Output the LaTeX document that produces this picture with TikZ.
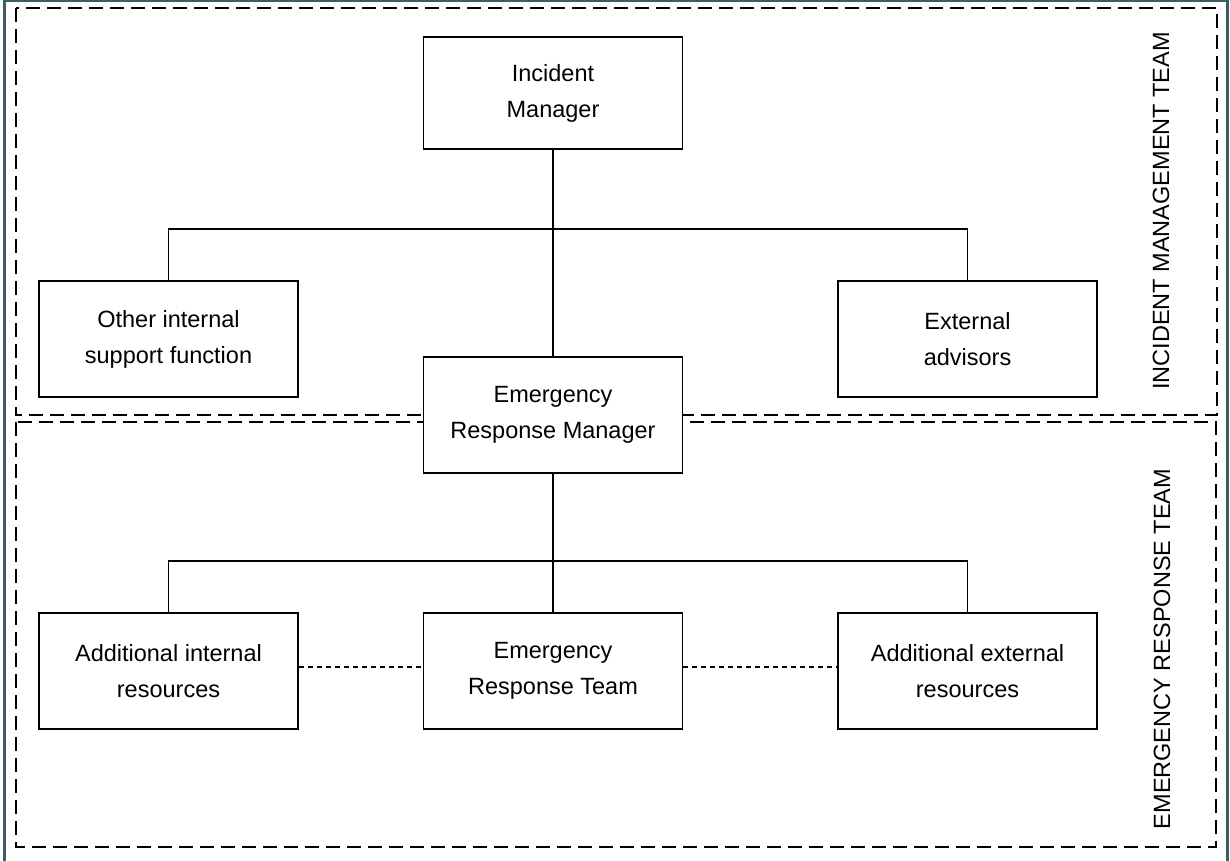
\documentclass[tikz,border=0pt]{standalone}
\usepackage{fontspec}
\setmainfont{Liberation Sans}
\definecolor{frameteal}{RGB}{59,94,102}
\tikzset{
  box/.style={draw=black, line width=1.8pt, rectangle, minimum width=259pt, minimum height=114pt, align=center, inner sep=0pt, font=\fontsize{23.5}{36}\selectfont},
  link/.style={draw=black, line width=1.6pt},
  dlink/.style={draw=black, line width=1.6pt, dash pattern=on 5pt off 4pt},
  zone/.style={draw=black, line width=1.8pt, dash pattern=on 14pt off 7pt},
  zonelabel/.style={rotate=90, inner sep=0pt, font=\fontsize{23.5}{28}\selectfont},
}
\begin{document}
\begin{tikzpicture}[x={(1pt,0)}, y={(0,-1pt)}]
\useasboundingbox (0,0) rectangle (1230,861);
% outer frame (top, left, right)
\draw[frameteal, line width=3pt] (4.5,861) -- (4.5,1) -- (1227.5,1) -- (1227.5,861);
% zones
\draw[zone] (16,8) rectangle (1217,415);
\draw[zone] (16,422) rectangle (1216,847);
\node[zonelabel] (lblimt) at (1161,211) {INCIDENT MANAGEMENT TEAM};
\node[zonelabel] (lblert) at (1162,649) {EMERGENCY RESPONSE TEAM};
% boxes
\node[box, minimum height=112pt] (im) at (553,93) {Incident\\Manager};
\node[box, minimum height=116pt] (oisf) at (168.5,339) {Other internal\\support function};
\node[box, minimum height=116pt] (ea) at (967.5,339) {External\\advisors};
\node[box, fill=white, minimum height=116pt] (erm) at (553,415) {Emergency\\Response Manager};
\node[box, minimum height=116pt] (air) at (168.5,671) {Additional internal\\resources};
\node[box, minimum height=116pt] (ert) at (553,671) {Emergency\\Response Team};
\node[box, minimum height=116pt] (aer) at (967.5,671) {Additional external\\resources};
% connectors
\draw[link] (im.south) -- (erm.north);
\draw[link] (oisf.north) -- ++(0,-51) -| (ea.north);
\draw[link] (erm.south) -- (ert.north);
\draw[link] (air.north) -- ++(0,-51) -| (aer.north);
\draw[dlink] ([yshift=4pt]air.east) -- ([yshift=4pt]ert.west);
\draw[dlink] ([yshift=4pt]ert.east) -- ([yshift=4pt]aer.west);
\end{tikzpicture}
\end{document}
